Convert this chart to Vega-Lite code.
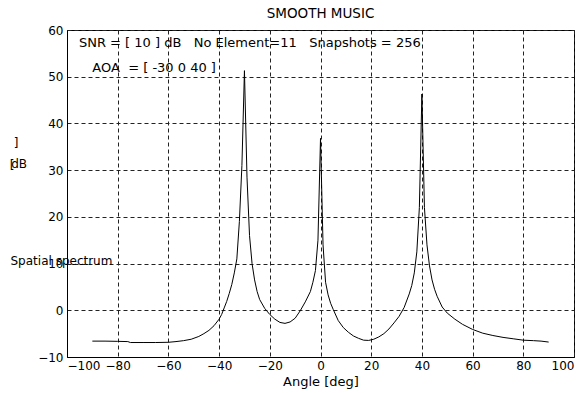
{
  "$schema": "https://vega.github.io/schema/vega-lite/v6.json",
  "autosize": "none",
  "width": 507,
  "height": 327,
  "padding": {"left": 67, "top": 30, "right": 10, "bottom": 36},
  "background": "white",
  "title": {"text": "SMOOTH MUSIC", "font": "DejaVu Sans", "fontSize": 13.5, "fontWeight": "normal", "color": "black", "offset": 4},
  "config": {
    "view": {"stroke": "black", "strokeWidth": 1},
    "axis": {
      "labelFont": "DejaVu Sans", "labelFontSize": 12, "labelColor": "black",
      "titleFont": "DejaVu Sans", "titleFontSize": 13, "titleFontWeight": "normal", "titleColor": "black",
      "domainColor": "black", "tickColor": "black",
      "gridColor": "#222", "gridDash": [4, 3], "gridOpacity": 1, "gridWidth": 1
    }
  },
  "datasets": {
    "spectrum": [
      {"angle": -90, "p": -6.6}, {"angle": -85, "p": -6.6}, {"angle": -80, "p": -6.65}, {"angle": -76, "p": -6.7},
      {"angle": -75, "p": -6.9}, {"angle": -70, "p": -6.9}, {"angle": -65, "p": -6.9}, {"angle": -60, "p": -6.85},
      {"angle": -57, "p": -6.7}, {"angle": -54, "p": -6.5}, {"angle": -51, "p": -6.2}, {"angle": -48, "p": -5.6},
      {"angle": -46, "p": -5.0}, {"angle": -44, "p": -4.3}, {"angle": -42, "p": -3.3}, {"angle": -40, "p": -1.9},
      {"angle": -39, "p": -0.9}, {"angle": -38, "p": 0.5}, {"angle": -37, "p": 1.9}, {"angle": -36, "p": 3.6},
      {"angle": -35, "p": 5.5}, {"angle": -34, "p": 8.0}, {"angle": -33, "p": 11.0}, {"angle": -32, "p": 19.0},
      {"angle": -31, "p": 31.0}, {"angle": -30, "p": 51.3}, {"angle": -29, "p": 28.5}, {"angle": -28, "p": 16.0},
      {"angle": -27, "p": 10.0}, {"angle": -26, "p": 6.5}, {"angle": -25, "p": 4.0}, {"angle": -24, "p": 2.3},
      {"angle": -22, "p": 0.4}, {"angle": -20, "p": -0.9}, {"angle": -18, "p": -1.9}, {"angle": -16, "p": -2.6},
      {"angle": -14, "p": -2.8}, {"angle": -12, "p": -2.5}, {"angle": -10, "p": -1.7}, {"angle": -8, "p": -0.1},
      {"angle": -6, "p": 1.8}, {"angle": -4, "p": 4.0}, {"angle": -3, "p": 6.0}, {"angle": -2, "p": 8.5},
      {"angle": -1, "p": 15.0}, {"angle": 0, "p": 36.8}, {"angle": 1, "p": 14.0}, {"angle": 2, "p": 6.0},
      {"angle": 3, "p": 3.3}, {"angle": 4, "p": 1.5}, {"angle": 5, "p": 0.2}, {"angle": 7, "p": -2.2},
      {"angle": 9, "p": -3.7}, {"angle": 11, "p": -4.7}, {"angle": 13, "p": -5.5}, {"angle": 15, "p": -6.0},
      {"angle": 17, "p": -6.4}, {"angle": 19, "p": -6.45}, {"angle": 21, "p": -6.2}, {"angle": 23, "p": -5.7},
      {"angle": 25, "p": -5.0}, {"angle": 27, "p": -4.0}, {"angle": 29, "p": -2.7}, {"angle": 31, "p": -1.3},
      {"angle": 33, "p": 0.6}, {"angle": 35, "p": 3.5}, {"angle": 36, "p": 5.3}, {"angle": 37, "p": 8.0},
      {"angle": 38, "p": 12.5}, {"angle": 39, "p": 22.0}, {"angle": 40, "p": 46.3}, {"angle": 41, "p": 22.0},
      {"angle": 42, "p": 14.0}, {"angle": 43, "p": 9.5}, {"angle": 44, "p": 6.5}, {"angle": 45, "p": 4.5},
      {"angle": 46, "p": 3.0}, {"angle": 48, "p": 0.7}, {"angle": 50, "p": -0.6}, {"angle": 53, "p": -1.9},
      {"angle": 56, "p": -3.0}, {"angle": 60, "p": -4.1}, {"angle": 64, "p": -4.9}, {"angle": 68, "p": -5.4},
      {"angle": 72, "p": -5.8}, {"angle": 76, "p": -6.1}, {"angle": 80, "p": -6.4}, {"angle": 84, "p": -6.5},
      {"angle": 87, "p": -6.6}, {"angle": 90, "p": -6.8}
    ],
    "notes": [{"id": "one"}]
  },
  "layer": [
    {
      "data": {"name": "spectrum"},
      "mark": {"type": "line", "color": "black", "strokeWidth": 1, "interpolate": "linear"},
      "encoding": {
        "x": {"field": "angle", "type": "quantitative",
              "scale": {"domain": [-100, 100], "nice": false, "zero": false},
              "axis": {"values": [-100, -80, -60, -40, -20, 0, 20, 40, 60, 80, 100], "title": "Angle [deg]",
                       "tickSize": 0, "labelPadding": 3, "titlePadding": 4, "domain": true}},
        "y": {"field": "p", "type": "quantitative",
              "scale": {"domain": [-10, 60], "nice": false, "zero": false},
              "axis": {"values": [-10, 0, 10, 20, 30, 40, 50, 60], "title": "Spatial spectrum",
                       "titleAngle": 0, "titleAlign": "left", "titleBaseline": "middle",
                       "titleX": -57, "titleY": 230, "titleFontSize": 12,
                       "tickSize": 0, "labelPadding": 4, "domain": true}}
      }
    },
    {
      "data": {"name": "notes"},
      "mark": {"type": "text", "align": "left", "baseline": "middle", "font": "DejaVu Sans", "fontSize": 13, "color": "black"},
      "encoding": {
        "x": {"datum": -95.3, "type": "quantitative"},
        "y": {"datum": 57.2, "type": "quantitative"},
        "text": {"value": "SNR = [ 10 ] dB \u00a0 No Element=11 \u00a0 Snapshots = 256"}
      }
    },
    {
      "data": {"name": "notes"},
      "mark": {"type": "text", "align": "left", "baseline": "middle", "font": "DejaVu Sans", "fontSize": 13, "color": "black"},
      "encoding": {
        "x": {"datum": -90, "type": "quantitative"},
        "y": {"datum": 51.9, "type": "quantitative"},
        "text": {"value": "AOA \u00a0= [ -30 0 40 ]"}
      }
    },
    {
      "data": {"name": "notes"},
      "mark": {"type": "text", "align": "left", "baseline": "middle", "font": "DejaVu Sans", "fontSize": 12, "color": "black"},
      "encoding": {
        "x": {"datum": -121, "type": "quantitative"},
        "y": {"datum": 35.8, "type": "quantitative"},
        "text": {"value": "]"}
      }
    },
    {
      "data": {"name": "notes"},
      "mark": {"type": "text", "align": "left", "baseline": "middle", "font": "DejaVu Sans", "fontSize": 12, "color": "black"},
      "encoding": {
        "x": {"datum": -122, "type": "quantitative"},
        "y": {"datum": 31.4, "type": "quantitative"},
        "text": {"value": "dB"}
      }
    },
    {
      "data": {"name": "notes"},
      "mark": {"type": "text", "align": "left", "baseline": "middle", "font": "DejaVu Sans", "fontSize": 12, "color": "black"},
      "encoding": {
        "x": {"datum": -122.6, "type": "quantitative"},
        "y": {"datum": 31.0, "type": "quantitative"},
        "text": {"value": "["}
      }
    }
  ]
}
